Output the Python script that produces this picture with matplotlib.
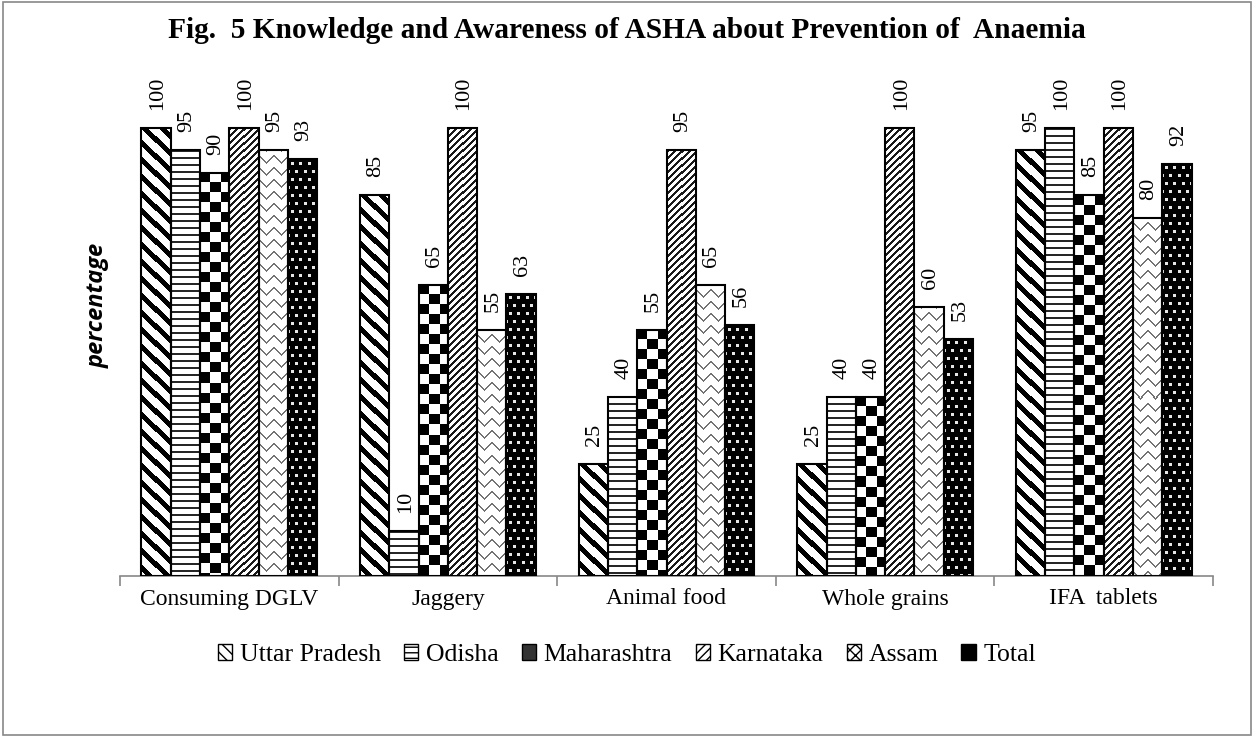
import numpy as np
import matplotlib
matplotlib.use("Agg")
import matplotlib.pyplot as plt
from matplotlib.patches import Patch, Rectangle

# data
categories = ["Consuming DGLV", "Jaggery", "Animal food", "Whole grains", "IFA  tablets"]
states = ["Uttar Pradesh", "Odisha", "Maharashtra", "Karnataka", "Assam", "Total"]
uttar_pradesh = [100, 85, 25, 25, 95]
odisha = [95, 10, 40, 40, 100]
maharashtra = [90, 65, 55, 40, 85]
karnataka = [100, 100, 95, 100, 100]
assam = [95, 55, 65, 60, 80]
total = [93, 63, 56, 53, 92]
series = [uttar_pradesh, odisha, maharashtra, karnataka, assam, total]

kinds = ["back", "hline", "checker", "fwd", "zig", "dots"]
legend_hatch = ["\\\\\\", "---", None, "////", "xxx", ".."]

plt.rcParams["font.family"] = ["Liberation Serif", "DejaVu Serif"]


def pattern(kind, h, w):
    # 1 = white, 0 = black
    yy, xx = np.mgrid[0:h, 0:w]
    if kind == "back":
        return np.where((xx - yy) % 17 < 7, 0.0, 1.0)
    if kind == "hline":
        return np.where(yy % 7 < 2, 0.15, 1.0)
    if kind == "checker":
        return np.where((xx // 10 + yy // 10) % 2 == 0, 0.0, 1.0)
    if kind == "fwd":
        return np.where((xx + yy) % 7 < 3, 0.1, 1.0)
    if kind == "zig":
        tri = np.abs(xx % 14 - 7)
        return np.where((yy + tri) % 12 < 2, 0.45, 1.0)
    if kind == "dots":
        cx = (xx + 4 * ((yy // 8) % 2)) % 8 - 4
        cy = yy % 8 - 4
        return np.where(cx ** 2 + cy ** 2 < 3, 0.9, 0.0)
    return np.ones((h, w))


fig = plt.figure(figsize=(12.54, 7.37), dpi=100)
ax = fig.add_axes([120 / 1254, 1 - 576 / 737, (1213 - 120) / 1254, (576 - 90) / 737])
x = np.arange(len(categories))
width = 0.134
ymax = (576 - 90) / 4.48
ax.set_xlim(-0.5, len(categories) - 0.5)
ax.set_ylim(0, ymax)

bar_sets = []
for i, vals in enumerate(series):
    bars = ax.bar(x + (i - 2.5) * width, vals, width, facecolor="none",
                  edgecolor="black", linewidth=1.5, zorder=3)
    bar_sets.append(bars)
    for b, v in zip(bars, vals):
        ax.annotate(f"{v}", (b.get_x() + b.get_width() / 2, v), xytext=(1, 13),
                    textcoords="offset points", rotation=90, ha="center",
                    va="bottom", fontsize=16)

# fill the bars with pixel patterns
for i, bars in enumerate(bar_sets):
    for b in bars:
        x0, x1 = b.get_x(), b.get_x() + b.get_width()
        h = b.get_height()
        p0 = ax.transData.transform((x0, 0))
        p1 = ax.transData.transform((x1, h))
        pw = max(int(round(p1[0] - p0[0])), 1)
        ph = max(int(round(p1[1] - p0[1])), 1)
        img = pattern(kinds[i], ph, pw)
        ax.imshow(img, cmap="gray", vmin=0, vmax=1, extent=(x0, x1, 0, h),
                  aspect="auto", interpolation="nearest", zorder=2)

ax.set_xlim(-0.5, len(categories) - 0.5)
ax.set_ylim(0, ymax)

for s in ["top", "right", "left"]:
    ax.spines[s].set_visible(False)
ax.spines["bottom"].set_color("#888888")
ax.spines["bottom"].set_linewidth(1.2)
ax.set_yticks([])
ax.set_xticks(x)
ax.set_xticklabels(categories, fontsize=17)
ax.tick_params(axis="x", which="major", length=0, pad=9)
ax.set_xticks(np.arange(len(categories) + 1) - 0.5, minor=True)
ax.tick_params(axis="x", which="minor", length=7, color="#888888", width=1.2)

ax.set_ylabel("percentage", fontsize=17, fontweight="bold", style="italic",
              family=["Open Sans", "DejaVu Sans"])
ax.yaxis.set_label_coords(-0.009, 0.557)

fig.text(0.5, 1 - 31 / 737, "Fig.  5 Knowledge and Awareness of ASHA about Prevention of  Anaemia",
         ha="center", va="center", fontsize=21.2, fontweight="bold")

handles = []
for i, name in enumerate(states):
    if kinds[i] == "checker":
        handles.append(Patch(facecolor="#333333", edgecolor="black", label=name))
    elif kinds[i] == "dots":
        handles.append(Patch(facecolor="black", edgecolor="black", hatch="..", label=name))
    else:
        handles.append(Patch(facecolor="white", edgecolor="black", hatch=legend_hatch[i], label=name))
fig.legend(handles=handles, loc="center", bbox_to_anchor=(0.5, 1 - 655 / 737),
           ncol=6, frameon=False, fontsize=18.5, handlelength=0.55, handleheight=0.55,
           handletextpad=0.3, columnspacing=0.9)

fig.patches.append(Rectangle((0.002, 0.003), 0.996, 0.994, transform=fig.transFigure,
                             fill=False, edgecolor="#888888", linewidth=1.2))

fig.savefig("out.png", dpi=100)
